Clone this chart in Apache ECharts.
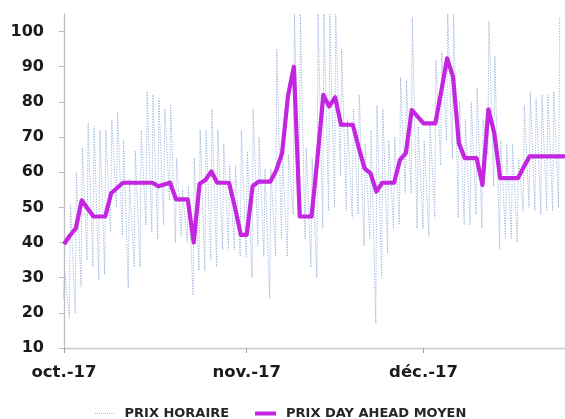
<!DOCTYPE html>
<html><head><meta charset="utf-8">
<script src="https://cdn.jsdelivr.net/npm/echarts@6/dist/echarts.min.js"></script>
<style>html,body{margin:0;padding:0;background:#fff}#c{width:565px;height:419px}</style>
</head><body><div id="c"></div>
<script>
// day index 0 = 1 Oct 2017
const monthLabels = {0: 'oct.-17', 31: 'nov.-17', 61: 'déc.-17'};
const dayCount = 86;
// hourly price: daily low and high (EUR/MWh)
const hourlyLow  = [24,18.5,20,27.5,35,33,29.5,31,43,50,42,27,33,33,45,43,41,45,52,40,42,40,25,32,32,35,33,38,38,38,36,36,30,39,36,24,36,41,36,48,50,41,33,30,44,49,50,59,49,47,48,39,41,17,30,37,44,45,54,54,44,44,42,47,62,69,64,47,45,45,48,44,65,56,38,41,41,40,49,50,49,48,49,49,50];
const hourlyHigh = [32,51,60,67,74,73,72,72,75,77,69,58,66,72,83,82,81,78,79,64,55,56,64,72,72,78,72,68,62,62,72,66,78,70,61,61,95,64,65,105,105,67,64,105,105,105,105,95,75,78,82,68,72,79,78,69,70,87,86,104,73,69,74,92,94,105,105,80,75,80,84,75,103,93,69,68,68,64,79,83,81,82,82,83,104];
// day-ahead average price
const dailyAvg = [39.5,42,44,52,49.7,47.4,47.4,47.4,54,55.5,57,57,57,57,57,57,56,56.5,57,52.3,52.3,52.3,40,56.7,57.8,60.2,57,57,57,50,42.2,42.2,56,57.3,57.3,57.3,60.5,65.4,81.7,90,47.4,47.4,47.4,64,82,78.7,81.3,73.5,73.5,73.5,67,61.1,59.7,54.5,57,57,57,63.5,65.4,77.7,75.8,73.9,73.9,73.9,83,92.4,87.2,68.2,64,64,64,56.4,77.9,71.1,58.3,58.3,58.3,58.3,61.5,64.5,64.5,64.5,64.5,64.5,64.5,64.5];

const hourlyData = [];
for (let d = 0; d < hourlyLow.length; d++) {
  hourlyData.push([d - 0.1, hourlyLow[d]]);
  hourlyData.push([d + 0.1, hourlyHigh[d]]);
}
const dailyData = dailyAvg.map((v, i) => [i, v]);
const cats = Array.from({length: dayCount}, (_, i) => String(i));

let dotPath = 'path://';
for (let i = 0; i < 20; i += 2) dotPath += 'M' + i + ',0h1v1h-1z';

const FONT = 'DejaVu Sans';
const legendText = {fontFamily: FONT, fontWeight: 'bold', fontSize: 13, color: '#262626',
  rich: {t: {fontFamily: FONT, fontWeight: 'bold', fontSize: 13, color: '#262626', padding: [0, 0, 0, 5]}}};
const chart = echarts.init(document.getElementById('c'), null, {renderer: 'canvas'});
chart.setOption({
  animation: false,
  backgroundColor: '#ffffff',
  grid: {left: 64, right: 0, top: 14, bottom: 71, containLabel: false},
  legend: [
    {left: 90, top: 402, itemWidth: 20, itemHeight: 1, formatter: '{t|{name}}', textStyle: legendText,
     data: [{name: 'PRIX HORAIRE', icon: dotPath, itemStyle: {color: '#A9BEDF'}}]},
    {left: 250, top: 402, itemWidth: 21, itemHeight: 4, formatter: '{t|{name}}', textStyle: legendText,
     data: [{name: 'PRIX DAY AHEAD MOYEN', icon: 'rect', itemStyle: {color: '#C425E0'}}]}
  ],
  xAxis: [
    {type: 'value', min: 0, max: dayCount - 1, position: 'bottom',
     axisLine: {show: true, lineStyle: {color: '#C8C8C8', width: 1.3}},
     axisTick: {show: false}, axisLabel: {show: false}, splitLine: {show: false}},
    {type: 'category', data: cats, boundaryGap: false, position: 'bottom',
     axisLine: {show: false},
     axisTick: {show: true, length: 5, interval: (i) => monthLabels[i] !== undefined, lineStyle: {color: '#A0A0A0'}},
     axisLabel: {show: true, interval: (i) => monthLabels[i] !== undefined, formatter: (v) => monthLabels[+v] || '',
       fontFamily: FONT, fontWeight: 'bold', fontSize: 16.5, color: '#1a1a1a', margin: 16},
     splitLine: {show: false}}
  ],
  yAxis: {
    type: 'value', min: 10, max: 105, interval: 10,
    axisLine: {show: true, lineStyle: {color: '#BFBFBF', width: 1.3}},
    axisTick: {show: true, length: 5, lineStyle: {color: '#BFBFBF'}},
    axisLabel: {fontFamily: FONT, fontWeight: 'bold', fontSize: 16, color: '#1a1a1a', margin: 20, showMaxLabel: false,
      formatter: (v) => (v > 100 ? '' : String(v))},
    splitLine: {show: false}
  },
  series: [
    {name: 'PRIX HORAIRE', type: 'line', xAxisIndex: 0, data: hourlyData, symbol: 'none', clip: true,
     lineStyle: {color: '#9DB5DC', width: 1, type: [1.2, 1.4]}, itemStyle: {color: '#A9BEDF'}, z: 1},
    {name: 'PRIX DAY AHEAD MOYEN', type: 'line', xAxisIndex: 0, data: dailyData, symbol: 'none',
     lineStyle: {color: '#C425E0', width: 4.2, join: 'round'}, itemStyle: {color: '#C425E0'}, z: 3}
  ]
});
</script></body></html>
